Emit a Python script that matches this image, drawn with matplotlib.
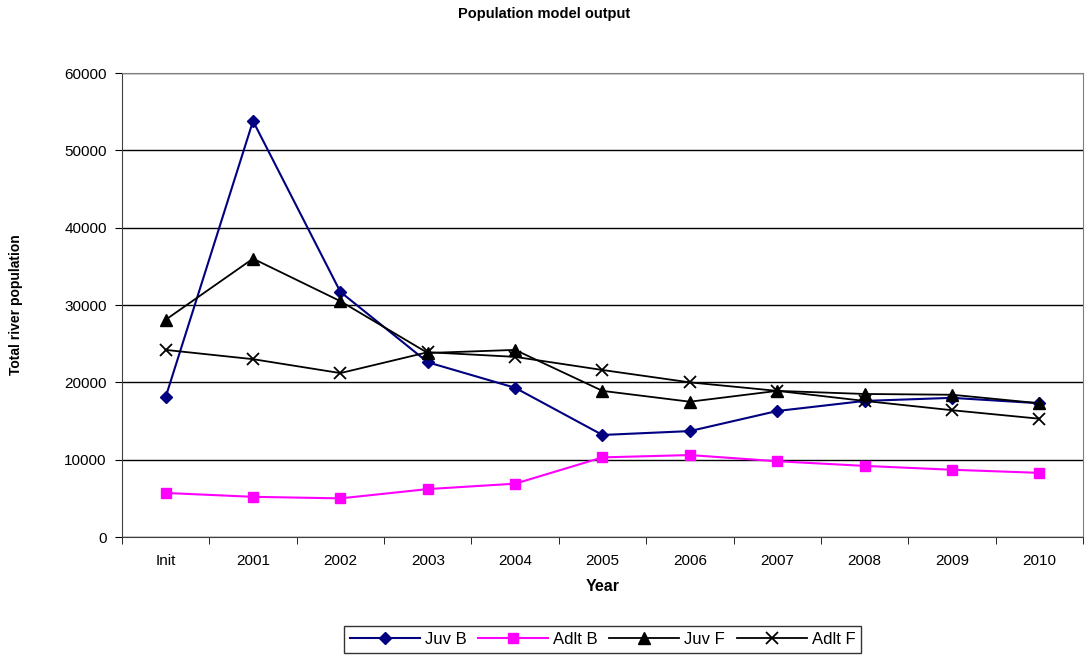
import numpy as np
import matplotlib.pyplot as plt

years = ['Init', '2001', '2002', '2003', '2004', '2005', '2006', '2007', '2008', '2009', '2010']
juv_b = [18100, 53800, 31700, 22600, 19300, 13200, 13700, 16300, 17600, 18000, 17300]
adlt_b = [5700, 5200, 5000, 6200, 6900, 10300, 10600, 9800, 9200, 8700, 8300]
juv_f = [28100, 36000, 30500, 23800, 24200, 18900, 17500, 18900, 18500, 18400, 17300]
adlt_f = [24200, 23000, 21200, 23900, 23300, 21600, 20000, 18900, 17600, 16400, 15300]

plt.rcParams['font.family'] = ['Liberation Sans', 'DejaVu Sans']

fig = plt.figure(figsize=(10.89, 6.57), dpi=100)
ax = fig.add_axes([0.112, 0.1826, 0.8825, 0.7062])

x = np.arange(len(years))
ax.plot(x, juv_b, color='#000080', marker='D', markersize=6, lw=1.5, label='Juv B')
ax.plot(x, adlt_b, color='#FF00FF', marker='s', markersize=7, lw=1.5, label='Adlt B')
ax.plot(x, juv_f, color='black', marker='^', markersize=8, lw=1.3, label='Juv F')
ax.plot(x, adlt_f, color='black', marker='x', markersize=9, mew=1.3, lw=1.3, label='Adlt F')

ax.set_xlim(-0.5, len(years) - 0.5)
ax.set_ylim(0, 60000)
ax.set_yticks(np.arange(0, 60001, 10000))
ax.yaxis.grid(True, color='black', lw=1)
ax.set_axisbelow(True)

ax.set_xticks(x)
ax.set_xticklabels(years, fontsize=11)
ax.set_xticks(np.arange(-0.5, len(years), 1), minor=True)
ax.tick_params(axis='x', which='major', length=0, pad=12)
ax.tick_params(axis='x', which='minor', length=5, direction='out')
ax.tick_params(axis='y', length=5, direction='out', labelsize=11, pad=6)

for s in ['top', 'right']:
    ax.spines[s].set_color('#808080')
for s in ['left', 'bottom']:
    ax.spines[s].set_color('#404040')

ax.set_xlabel('Year', fontsize=11.5, fontweight='bold', labelpad=8)
ax.set_ylabel('Total river population', fontsize=10, fontweight='bold', labelpad=30)
fig.text(0.5, 0.978, 'Population model output', ha='center', va='center',
         fontsize=10.5, fontweight='bold')

leg = ax.legend(loc='upper center', bbox_to_anchor=(0.5, -0.192), ncol=4,
                fontsize=12, frameon=True, fancybox=False, edgecolor='black',
                handlelength=4.2, handletextpad=0.3, columnspacing=0.7,
                borderpad=0.35, borderaxespad=0)
leg.get_frame().set_linewidth(1)

fig.savefig('out.png', dpi=100)
